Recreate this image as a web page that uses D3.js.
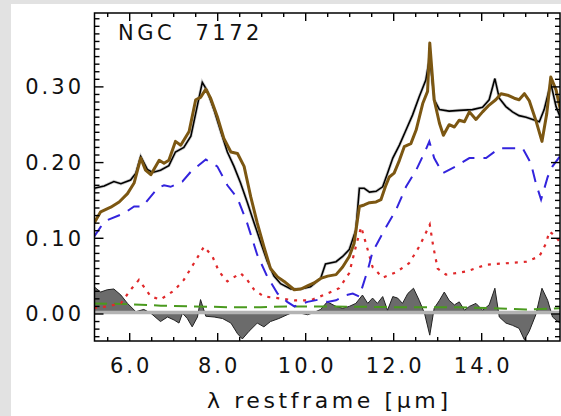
<!DOCTYPE html>
<html>
<head>
<meta charset="utf-8">
<script src="https://cdn.jsdelivr.net/npm/d3@7"></script>
<style>
  html, body { margin: 0; padding: 0; background: #e2e2e2; }
  svg { display: block; }
  text { font-family: "DejaVu Sans", sans-serif; fill: #111; }
</style>
</head>
<body>
<div id="chart"></div>
<script>
// spectrum values: [wavelength (um), flux]
const observed = [
  [5.19,0.166],[5.42,0.169],[5.64,0.175],[5.80,0.172],[6.02,0.177],[6.14,0.186],[6.25,0.208],
  [6.40,0.191],[6.52,0.187],[6.70,0.190],[6.89,0.196],[7.04,0.214],[7.23,0.220],[7.39,0.235],
  [7.50,0.265],[7.65,0.306],[7.76,0.295],[7.92,0.269],[8.07,0.241],[8.22,0.214],[8.37,0.195],
  [8.52,0.173],[8.67,0.148],[8.83,0.120],[8.98,0.094],[9.13,0.069],[9.28,0.050],[9.43,0.040],
  [9.66,0.033],[9.89,0.033],[10.11,0.036],[10.34,0.047],[10.45,0.066],[10.69,0.069],[10.84,0.076],
  [10.99,0.085],[11.14,0.111],[11.22,0.166],[11.33,0.166],[11.45,0.161],[11.60,0.162],[11.75,0.168],
  [11.86,0.186],[11.98,0.206],[12.13,0.223],[12.28,0.243],[12.43,0.263],[12.58,0.287],[12.73,0.309],
  [12.82,0.340],[12.92,0.283],[13.04,0.270],[13.26,0.268],[13.49,0.269],[13.79,0.270],[14.02,0.273],
  [14.17,0.283],[14.30,0.311],[14.40,0.285],[14.55,0.274],[14.70,0.267],[14.85,0.262],[15.01,0.260],
  [15.16,0.257],[15.31,0.254],[15.42,0.270],[15.57,0.305],[15.69,0.274],[15.80,0.258]
];
const model = [
  [5.19,0.120],[5.34,0.135],[5.57,0.141],[5.76,0.148],[5.95,0.159],[6.10,0.173],[6.25,0.206],
  [6.36,0.190],[6.48,0.184],[6.67,0.203],[6.78,0.199],[6.89,0.203],[7.04,0.228],[7.16,0.223],
  [7.35,0.241],[7.50,0.283],[7.61,0.286],[7.73,0.297],[7.84,0.285],[7.99,0.261],[8.14,0.232],
  [8.30,0.214],[8.45,0.212],[8.60,0.195],[8.75,0.155],[8.90,0.120],[9.05,0.089],[9.20,0.060],
  [9.36,0.049],[9.51,0.043],[9.74,0.032],[9.89,0.033],[10.04,0.037],[10.19,0.041],[10.34,0.047],
  [10.50,0.050],[10.69,0.052],[10.84,0.062],[10.99,0.076],[11.10,0.093],[11.22,0.142],[11.33,0.144],
  [11.45,0.147],[11.60,0.148],[11.71,0.151],[11.81,0.168],[11.90,0.181],[12.01,0.186],[12.13,0.203],
  [12.24,0.221],[12.39,0.225],[12.51,0.243],[12.66,0.278],[12.77,0.294],[12.82,0.358],[12.92,0.283],
  [13.04,0.252],[13.13,0.236],[13.26,0.250],[13.38,0.247],[13.49,0.256],[13.61,0.254],[13.72,0.267],
  [13.87,0.257],[14.02,0.267],[14.17,0.276],[14.32,0.283],[14.44,0.291],[14.59,0.289],[14.74,0.285],
  [14.85,0.283],[14.97,0.291],[15.08,0.282],[15.23,0.256],[15.37,0.228],[15.48,0.265],[15.57,0.313],
  [15.69,0.296],[15.80,0.267]
];
const pahBands = [
  [5.19,0.102],[5.34,0.115],[5.49,0.124],[5.87,0.133],[6.10,0.142],[6.29,0.142],[6.63,0.166],
  [6.78,0.170],[6.93,0.168],[7.20,0.175],[7.39,0.188],[7.73,0.204],[7.99,0.195],[8.22,0.170],
  [8.45,0.153],[8.67,0.120],[8.90,0.078],[9.13,0.049],[9.36,0.027],[9.58,0.016],[9.74,0.010],
  [10.04,0.016],[10.30,0.019],[10.49,0.016],[10.69,0.018],[10.92,0.025],[11.07,0.027],[11.22,0.023],
  [11.41,0.058],[11.52,0.082],[11.79,0.111],[12.05,0.137],[12.28,0.168],[12.51,0.190],[12.73,0.217],
  [12.81,0.228],[12.92,0.206],[13.11,0.186],[13.41,0.195],[13.72,0.206],[14.10,0.206],[14.40,0.219],
  [14.93,0.219],[15.12,0.199],[15.23,0.173],[15.35,0.151],[15.50,0.181],[15.61,0.195],[15.80,0.210]
];
const lineComp = [
  [5.19,0.008],[5.49,0.010],[5.80,0.014],[6.02,0.032],[6.21,0.045],[6.32,0.036],[6.48,0.023],
  [6.70,0.019],[7.01,0.031],[7.23,0.045],[7.46,0.067],[7.69,0.089],[7.88,0.076],[8.03,0.056],
  [8.22,0.043],[8.52,0.054],[8.67,0.045],[8.83,0.032],[9.05,0.023],[9.36,0.021],[9.74,0.018],
  [10.11,0.018],[10.49,0.027],[10.76,0.034],[10.99,0.054],[11.14,0.089],[11.26,0.115],[11.37,0.093],
  [11.52,0.062],[11.75,0.048],[12.05,0.055],[12.35,0.067],[12.58,0.089],[12.73,0.107],[12.82,0.118],
  [12.90,0.089],[13.00,0.060],[13.19,0.052],[13.64,0.056],[14.10,0.065],[14.55,0.067],[15.01,0.069],
  [15.31,0.076],[15.46,0.093],[15.54,0.109],[15.69,0.102],[15.80,0.093]
];
const continuum = [
  [5.19,0.014],[5.95,0.013],[6.71,0.011],[7.46,0.010],[8.22,0.009],[8.98,0.009],[9.74,0.010],
  [10.46,0.010],[11.98,0.009],[13.49,0.009],[15.01,0.006],[15.80,0.0075]
];
const residual = [
  [5.19,0.036],[5.34,0.029],[5.49,0.032],[5.64,0.033],[5.80,0.025],[5.95,0.014],[6.14,0.003],
  [6.32,0.006],[6.48,0.001],[6.70,-0.010],[6.86,-0.004],[7.01,-0.008],[7.12,-0.012],[7.20,0.001],
  [7.31,-0.006],[7.42,-0.017],[7.54,-0.004],[7.61,0.019],[7.73,-0.003],[7.92,-0.004],[8.11,-0.006],
  [8.30,-0.012],[8.45,-0.026],[8.56,-0.033],[8.71,-0.023],[8.90,-0.012],[9.05,-0.017],[9.20,-0.010],
  [9.39,-0.006],[9.58,-0.001],[9.74,0.003],[9.89,0.001],[10.04,-0.001],[10.19,0.002],[10.34,0.006],
  [10.49,0.016],[10.69,0.010],[10.84,0.0075],[10.99,0.010],[11.14,0.014],[11.29,0.025],[11.41,0.014],
  [11.52,0.021],[11.63,0.014],[11.75,0.023],[11.86,0.005],[11.98,0.023],[12.09,0.021],[12.20,0.014],
  [12.32,0.027],[12.45,0.034],[12.58,0.018],[12.70,0.001],[12.82,-0.028],[12.92,0.0075],[13.04,0.018],
  [13.15,0.029],[13.26,0.018],[13.38,0.012],[13.49,0.016],[13.61,0.005],[13.72,0.010],[13.87,0.014],
  [14.02,0.005],[14.17,0.012],[14.30,0.034],[14.40,-0.004],[14.55,-0.012],[14.70,-0.015],[14.85,-0.019],
  [14.97,-0.034],[15.08,-0.023],[15.23,-0.001],[15.37,0.034],[15.50,0.018],[15.61,-0.004],[15.73,-0.010],
  [15.80,-0.012]
];
const xTickValues = [6, 8, 10, 12, 14];
const xTickLabels = ["6.0", "8.0", "10.0", "12.0", "14.0"];
const yTickValues = [0, 0.1, 0.2, 0.3];
const yTickLabels = ["0.00", "0.10", "0.20", "0.30"];
const title = "NGC  7172";
const xTitle = "λ restframe [μm]";

const width = 561;
const height = 416;
const plot = {left: 94.5, right: 560, top: 13, bottom: 341};

const svg = d3.select("#chart").append("svg")
  .attr("width", width)
  .attr("height", height);

// white panel on the grey page
svg.append("rect")
  .attr("x", 11).attr("y", 4)
  .attr("width", width - 11).attr("height", height - 4)
  .attr("fill", "white");

const x = d3.scaleLinear().domain([5.2, 15.78]).range([plot.left, plot.right]);
const y = d3.scaleLinear().domain([-0.0357, 0.3976]).range([plot.bottom, plot.top]);

svg.append("clipPath").attr("id", "clip")
  .append("rect")
  .attr("x", plot.left).attr("y", plot.top)
  .attr("width", plot.right - plot.left).attr("height", plot.bottom - plot.top);

const g = svg.append("g").attr("clip-path", "url(#clip)");

const line = d3.line().x(d => x(d[0])).y(d => y(d[1]));
const area = d3.area().x(d => x(d[0])).y0(y(0)).y1(d => y(d[1]));

// residuals
g.append("path").datum(residual)
  .attr("d", area)
  .attr("fill", "#6b6b6b");
g.append("path").datum(residual)
  .attr("d", line)
  .attr("fill", "none")
  .attr("stroke", "#222")
  .attr("stroke-width", 1);

// zero band
g.append("line")
  .attr("x1", plot.left).attr("x2", plot.right)
  .attr("y1", y(0) - 1.5).attr("y2", y(0) - 1.5)
  .attr("stroke", "#b3b3b3")
  .attr("stroke-width", 3.5);

g.append("path").datum(continuum)
  .attr("d", line)
  .attr("fill", "none")
  .attr("stroke", "#4a9a1e")
  .attr("stroke-width", 2)
  .attr("stroke-dasharray", "13,7");

g.append("path").datum(lineComp)
  .attr("d", line)
  .attr("fill", "none")
  .attr("stroke", "#e0282a")
  .attr("stroke-width", 2.2)
  .attr("stroke-dasharray", "3,6");

g.append("path").datum(pahBands)
  .attr("d", line)
  .attr("fill", "none")
  .attr("stroke", "#3324dd")
  .attr("stroke-width", 2)
  .attr("stroke-dasharray", "13,9");

// observed spectrum with its faint grey error halo
g.append("path").datum(observed)
  .attr("d", line)
  .attr("fill", "none")
  .attr("stroke", "#cdcdcd")
  .attr("stroke-width", 3.2);
g.append("path").datum(observed)
  .attr("d", line)
  .attr("fill", "none")
  .attr("stroke", "#000")
  .attr("stroke-width", 1.6);

g.append("path").datum(model)
  .attr("d", line)
  .attr("fill", "none")
  .attr("stroke", "#7c5712")
  .attr("stroke-width", 3)
  .attr("stroke-linejoin", "round");

// frame
svg.append("rect")
  .attr("x", plot.left).attr("y", plot.top)
  .attr("width", plot.right - plot.left).attr("height", plot.bottom - plot.top)
  .attr("fill", "none")
  .attr("stroke", "#000")
  .attr("stroke-width", 1.5);

// inward ticks, IDL style
const xMinor = d3.range(5.5, 15.8, 0.5).filter(v => v % 2 !== 0);
const yMinor = d3.range(-0.03, 0.4, 0.01).filter(v => Math.abs(Math.round(v * 10) - v * 10) > 0.01);

const ticks = svg.append("g").attr("stroke", "#000").attr("stroke-width", 1.4);
function xTick(v, len) {
  ticks.append("line").attr("x1", x(v)).attr("x2", x(v)).attr("y1", plot.bottom).attr("y2", plot.bottom - len);
  ticks.append("line").attr("x1", x(v)).attr("x2", x(v)).attr("y1", plot.top).attr("y2", plot.top + len);
}
function yTick(v, len) {
  ticks.append("line").attr("y1", y(v)).attr("y2", y(v)).attr("x1", plot.left).attr("x2", plot.left + len);
  ticks.append("line").attr("y1", y(v)).attr("y2", y(v)).attr("x1", plot.right).attr("x2", plot.right - len);
}
xTickValues.forEach(v => xTick(v, 8));
xMinor.forEach(v => xTick(v, 4));
yTickValues.forEach(v => yTick(v, 9));
yMinor.forEach(v => yTick(v, 5));

// tick labels
svg.append("g").selectAll("text")
  .data(xTickValues)
  .join("text")
  .attr("x", d => x(d) + 1.5)
  .attr("y", 373)
  .attr("text-anchor", "middle")
  .style("font-size", "21px")
  .style("letter-spacing", "3px")
  .text((d, i) => xTickLabels[i]);

svg.append("g").selectAll("text")
  .data(yTickValues)
  .join("text")
  .attr("x", 84)
  .attr("y", d => y(d) + 7.5)
  .attr("text-anchor", "end")
  .style("font-size", "21px")
  .style("letter-spacing", "3px")
  .text((d, i) => yTickLabels[i]);

svg.append("text")
  .attr("x", 118).attr("y", 40)
  .style("font-size", "21px")
  .style("letter-spacing", "3.5px")
  .style("white-space", "pre")
  .text(title);

svg.append("text")
  .attr("x", (plot.left + plot.right) / 2 + 2).attr("y", 408)
  .attr("text-anchor", "middle")
  .style("font-size", "22px")
  .style("letter-spacing", "3.6px")
  .text(xTitle);
</script>
</body>
</html>
